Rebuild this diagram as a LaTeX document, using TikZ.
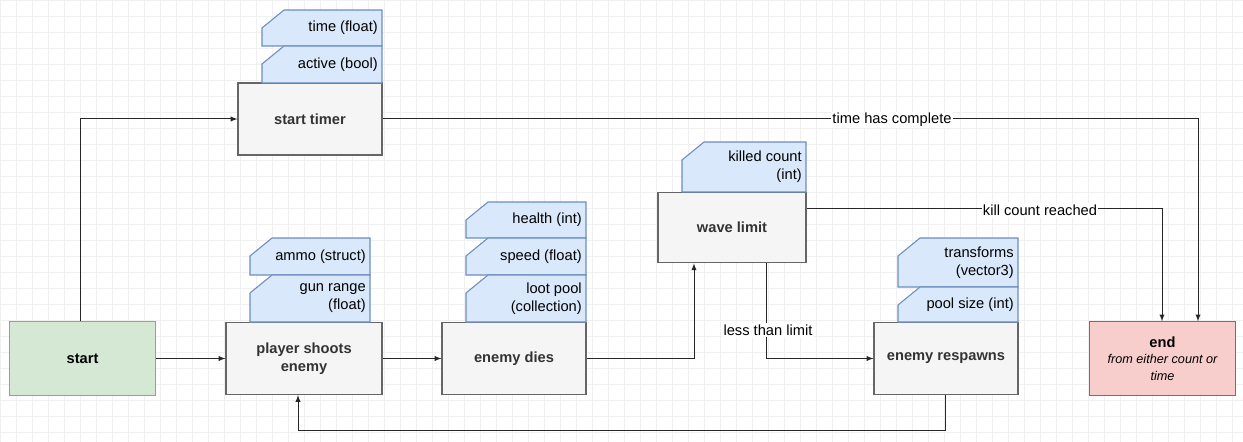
\documentclass[tikz,border=0pt]{standalone}
\usepackage{fontspec}
\setmainfont{Liberation Sans}
\definecolor{tagfill}{HTML}{DAE8FC}
\definecolor{tagline}{HTML}{6C8EBF}
\definecolor{gfill}{HTML}{F5F5F5}
\definecolor{gline}{HTML}{666666}
\definecolor{grfill}{HTML}{D5E8D4}
\definecolor{grline}{HTML}{82B366}
\definecolor{rfill}{HTML}{F8CECC}
\definecolor{rline}{HTML}{B85450}
\definecolor{gtext}{HTML}{333333}
\begin{document}
\begin{tikzpicture}[x=0.75pt,y=-0.75pt,font=\fontsize{11}{13.5}\selectfont,
  proc/.style={draw=gline,fill=gfill,text=gtext,line width=0.9pt,minimum width=108pt,minimum height=54pt,align=center,font=\fontsize{11}{13.5}\selectfont\bfseries},
  conn/.style={draw=black!85,line width=0.75pt,-latex},
  lbl/.style={fill=white,inner sep=1pt,font=\fontsize{11}{13.5}\selectfont},
  tagtxt/.style={anchor=east,align=right,inner sep=0pt}]
\useasboundingbox (0,0) rectangle (1243,442);
\fill[white] (0,0) rectangle (1243,442);
\draw[black!6,line width=0.4pt,step=12pt] (0,0) grid (1243,442);
\newcommand{\mytag}[6]{%
  \draw[draw=tagline,fill=tagfill,line width=0.8pt]
    (#1,#4) -- (#1,#2+18) -- (#1+22,#2) -- (#3,#2) -- (#3,#4) -- cycle;
  \node[tagtxt] (#6) at (#3-4,{(#2+#4)/2}) {#5};}
\node[proc,draw=grline,fill=grfill,text=black,minimum width=109pt,minimum height=55pt] (start) at (82.5,358.5) {start};
\node[proc] (timer) at (310,119) {start timer};
\node[proc,minimum width=117pt] (shoot) at (304,358.5) {player shoots\\enemy};
\node[proc] (dies) at (514,358.5) {enemy dies};
\node[proc,minimum width=111pt,minimum height=53pt] (wave) at (732,227.5) {wave limit};
\node[proc] (resp) at (946,358.5) {enemy respawns};
\node[proc,draw=rline,fill=rfill,text=black,minimum width=109pt,minimum height=55pt,font=\fontsize{11}{13.5}\selectfont] (end) at (1162.5,358.5) {\textbf{end}\\[-1pt]{\fontsize{9.5}{13}\selectfont\itshape from either count or}\\[-1pt]{\fontsize{9.5}{13}\selectfont\itshape time}};
\mytag{262}{10}{382}{46}{time (float)}{t1}
\mytag{262}{46}{382}{83}{active (bool)}{t2}
\mytag{250}{238}{370}{275}{ammo (struct)}{t3}
\mytag{250}{275}{370}{322}{gun range\\(float)}{t4}
\mytag{466}{202}{586}{238}{health (int)}{t5}
\mytag{466}{238}{586}{275}{speed (float)}{t6}
\mytag{466}{275}{586}{322}{loot pool\\(collection)}{t7}
\mytag{682}{142}{806}{192}{killed count\\(int)}{t8}
\mytag{898}{238}{1018}{287}{transforms\\(vector3)}{t9}
\mytag{898}{287}{1018}{322}{pool size (int)}{t10}
\coordinate (c1) at (80,119);
\draw[conn] (start.north -| c1) -- (c1) -- (timer.west);
\draw[conn] (start.east) -- (shoot.west);
\draw[conn] (shoot.east) -- (dies.west);
\coordinate (c2) at (694,358.5);
\draw[conn] (dies.east) -- (c2) -- (wave.south -| c2);
\coordinate (c3) at (766,358.5);
\draw[conn] (wave.south -| c3) -- (c3) -- (resp.west);
\node[lbl] (l1) at (768,330) {less than limit};
\coordinate (c4) at (945,430);
\coordinate (c5) at (298,430);
\draw[conn] (resp.south -| c4) -- (c4) -- (c5) -- (shoot.south -| c5);
\coordinate (c6) at (1198,119);
\draw[conn] (timer.east) -- (c6) -- (end.north -| c6);
\node[lbl] (l2) at (892,120) {time has complete};
\coordinate (c7) at (1162,209);
\draw[conn] (wave.east |- c7) -- (c7) -- (end.north -| c7);
\node[lbl] (l3) at (1040,210) {kill count reached};
\end{tikzpicture}
\end{document}
